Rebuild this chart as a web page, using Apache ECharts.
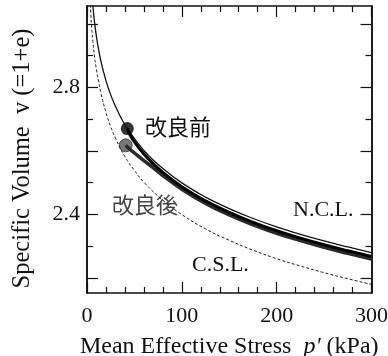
<!DOCTYPE html>
<html>
<head>
<meta charset="utf-8">
<script src="https://cdn.jsdelivr.net/npm/echarts@6/dist/echarts.min.js"></script>
<style>
  html, body { margin: 0; padding: 0; background: #fff; }
  #chart { width: 388px; height: 356px; }
</style>
</head>
<body>
<div id="chart"></div>
<script>
// Normal consolidation line (N.C.L.)
const nclP = [5, 6, 7, 8, 10, 12, 15, 20, 25, 30, 35, 40, 50, 60, 70, 80, 100, 125, 150, 175, 200, 225, 250, 275, 300];
const nclV = [3.098, 3.062, 3.031, 3.004, 2.959, 2.923, 2.878, 2.821, 2.776, 2.740, 2.709, 2.682, 2.638, 2.601, 2.570, 2.544, 2.499, 2.454, 2.418, 2.387, 2.360, 2.337, 2.316, 2.297, 2.279];
// Critical state line (C.S.L.)
const cslP = [3.5, 4, 5, 6, 8, 10, 12, 15, 20, 25, 30, 40, 50, 60, 80, 100, 125, 150, 175, 200, 225, 250, 275, 300];
const cslV = [3.06, 3.03, 2.985, 2.95, 2.895, 2.855, 2.823, 2.778, 2.721, 2.676, 2.640, 2.582, 2.538, 2.501, 2.444, 2.399, 2.354, 2.318, 2.287, 2.260, 2.237, 2.216, 2.197, 2.179];
// Compression path before improvement (改良前)
const beforeP = [42.5, 45, 50, 60, 70, 80, 100, 125, 150, 175, 200, 225, 250, 275, 300];
const beforeV = [2.670, 2.652, 2.628, 2.590, 2.559, 2.532, 2.487, 2.442, 2.406, 2.375, 2.348, 2.325, 2.304, 2.285, 2.267];
// Compression path after improvement (改良後)
const afterP = [40.8, 45, 50, 60, 70, 80, 100, 125, 150, 175, 200, 225, 250, 275, 300];
const afterV = [2.617, 2.605, 2.593, 2.569, 2.546, 2.522, 2.479, 2.434, 2.398, 2.367, 2.340, 2.317, 2.296, 2.277, 2.259];

// Axis ticks and labels
const xTickLabels = [0, 100, 200, 300];
const yTickLabels = [2.4, 2.8];
const yMajorTicks = [2.2, 2.4, 2.6, 2.8, 3.0];
const yMinorTicks = [2.3, 2.5, 2.7, 2.9];

const pairs = (xs, ys) => xs.map((x, i) => [x, ys[i]]);

const SERIF = "'Liberation Serif', 'Times New Roman', serif";
const CJK = "'Noto Sans CJK JP', sans-serif";
const INK = '#111';
const Y_MIN = 2.152, Y_MAX = 3.056;

const frameLine = { show: true, onZero: false, lineStyle: { color: INK, width: 1.5 } };

function xAxisDef(pos, showLabels) {
  return {
    type: 'value', position: pos, min: 0, max: 300, interval: 100,
    axisLine: frameLine,
    axisTick: { show: true, inside: true, length: 11, lineStyle: { color: INK, width: 1.2 } },
    minorTick: { show: true, splitNumber: 5, length: 6, lineStyle: { color: INK, width: 1.2 } },
    axisLabel: showLabels ? {
      show: true, margin: 12, fontFamily: SERIF, fontSize: 22, color: INK,
      customValues: xTickLabels
    } : { show: false },
    splitLine: { show: false }, minorSplitLine: { show: false }
  };
}

function yAxisDef(pos, ticks, len, labels) {
  return {
    type: 'value', position: pos, min: Y_MIN, max: Y_MAX,
    axisLine: frameLine,
    axisTick: { show: true, inside: true, length: len, customValues: ticks, lineStyle: { color: INK, width: 1.2 } },
    axisLabel: labels ? {
      show: true, margin: 7, fontFamily: SERIF, fontSize: 22, color: INK,
      customValues: labels, formatter: v => v.toFixed(1)
    } : { show: false },
    splitLine: { show: false }
  };
}

const yLeft = yAxisDef('left', yMajorTicks, 11, yTickLabels);
yLeft.name = 'Specific Volume  v (=1+e)';
yLeft.nameLocation = 'middle';
yLeft.nameGap = 52;
yLeft.nameTextStyle = { fontFamily: SERIF, fontSize: 24.5, color: INK, padding: [0, 18, 0, 0] };

const xBottom = xAxisDef('bottom', true);
xBottom.name = "{t|Mean Effective Stress  }{i|p'}{t| (kPa)}";
xBottom.nameLocation = 'middle';
xBottom.nameGap = 42;
xBottom.nameTextStyle = {
  rich: {
    t: { fontFamily: SERIF, fontSize: 24, color: INK },
    i: { fontFamily: SERIF, fontSize: 24, fontStyle: 'italic', color: INK }
  }
};

const chart = echarts.init(document.getElementById('chart'), null, { renderer: 'canvas' });

chart.setOption({
  animation: false,
  backgroundColor: '#fff',
  grid: { left: 87, right: 16.5, top: 6, bottom: 63, containLabel: false, outerBoundsMode: 'none' },
  xAxis: [xBottom, xAxisDef('top', false)],
  yAxis: [
    yLeft,
    yAxisDef('left', yMinorTicks, 6, null),
    yAxisDef('right', yMajorTicks, 11, null),
    yAxisDef('right', yMinorTicks, 6, null)
  ],
  series: [
    {
      name: 'C.S.L.', type: 'line', data: pairs(cslP, cslV), smooth: true,
      showSymbol: false, clip: true,
      lineStyle: { color: '#222', width: 1, type: [3, 2] }
    },
    {
      name: 'N.C.L.', type: 'line', data: pairs(nclP, nclV), smooth: true,
      showSymbol: false, clip: true,
      lineStyle: { color: INK, width: 1.3 }
    },
    {
      name: '改良後', type: 'line', data: pairs(afterP, afterV), smooth: true,
      showSymbol: false, clip: true,
      lineStyle: { color: '#2a2a2a', width: 3.5 }
    },
    {
      name: '改良前', type: 'line', data: pairs(beforeP, beforeV), smooth: true,
      showSymbol: false, clip: true,
      lineStyle: { color: '#000', width: 3 }
    },
    {
      name: '改良後 start', type: 'scatter', symbol: 'circle', symbolSize: 13,
      data: [[afterP[0], afterV[0]]],
      itemStyle: { color: '#555', borderColor: '#333', borderWidth: 1 }
    },
    {
      name: '改良前 start', type: 'scatter', symbol: 'circle', symbolSize: 13,
      data: [[beforeP[0], beforeV[0]]],
      itemStyle: { color: '#000' }
    }
  ],
  graphic: [
    { type: 'text', x: 145, y: 127, style: { text: '改良前', font: `22px ${CJK}`, fill: INK, align: 'left', verticalAlign: 'middle' } },
    { type: 'text', x: 112, y: 205, style: { text: '改良後', font: `22px ${CJK}`, fill: '#444', align: 'left', verticalAlign: 'middle' } },
    { type: 'text', x: 293, y: 210, style: { text: 'N.C.L.', font: `22px ${SERIF}`, fill: INK, align: 'left', verticalAlign: 'middle' } },
    { type: 'text', x: 192, y: 265, style: { text: 'C.S.L.', font: `22px ${SERIF}`, fill: INK, align: 'left', verticalAlign: 'middle' } }
  ]
});
</script>
</body>
</html>
